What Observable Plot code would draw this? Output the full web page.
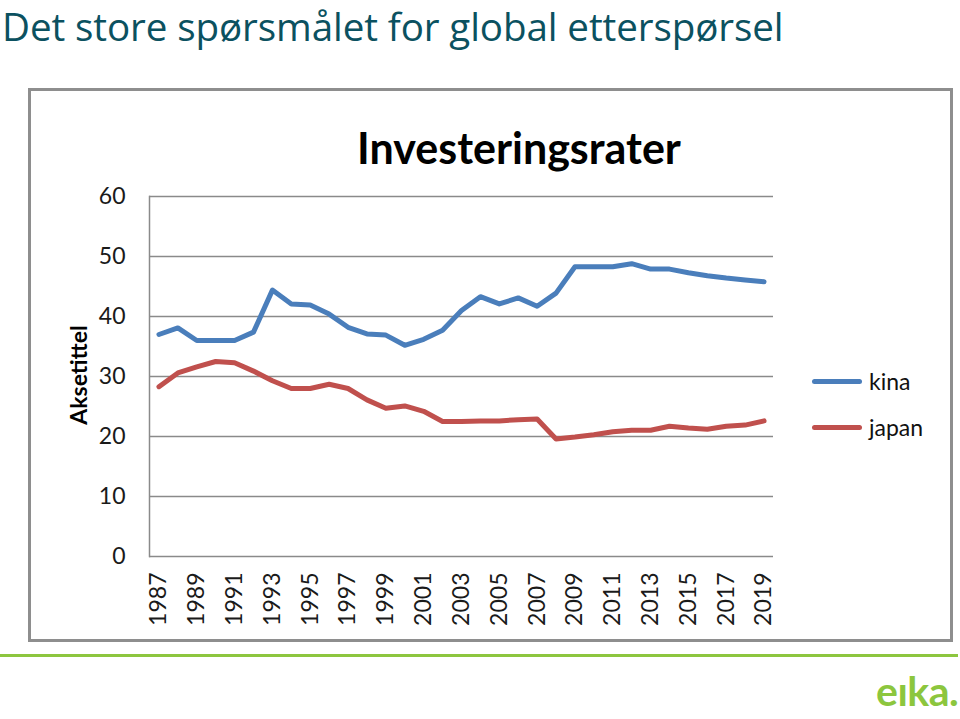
<!DOCTYPE html>
<html>
<head>
<meta charset="utf-8">
<script src="https://cdn.jsdelivr.net/npm/d3@7"></script>
<script src="https://cdn.jsdelivr.net/npm/@observablehq/plot@0.6"></script>
<style>
  html, body { margin: 0; padding: 0; background: #fff; }
  body { width: 960px; height: 719px; position: relative; overflow: hidden; font-family: Lato, sans-serif; }
  #title { position: absolute; left: 2px; top: 0px; font-family: "Open Sans", sans-serif; font-size: 38.6px; line-height: normal; letter-spacing: -0.1px; color: #0b5160; white-space: nowrap; }
  #frame { position: absolute; left: 28px; top: 88px; width: 919px; height: 548px; border: 3px solid #8e8e8e; background: #fff; }
  #chart { position: absolute; left: 0; top: 0; }
  #ctitle { position: absolute; left: 488px; top: 35px; transform: translateX(-50%); font-family: Lato, sans-serif; font-weight: bold; font-size: 43px; line-height: 1; color: #000; white-space: nowrap; }
  #ytitle { position: absolute; left: 47px; top: 284px; transform: translate(-50%, -50%) rotate(-90deg); font-family: Lato, sans-serif; font-weight: bold; font-size: 23px; line-height: 1; white-space: nowrap; color: #000; }
  .leg { position: absolute; left: 781px; height: 30px; display: flex; align-items: center; font-family: Lato, sans-serif; font-size: 23px; color: #111; white-space: nowrap; }
  .sw { width: 50px; height: 5px; border-radius: 3px; margin-right: 7px; }
  #green { position: absolute; left: 0; top: 654px; width: 958px; height: 3px; background: #8dc63f; }
  #logo { position: absolute; left: 876px; top: 670px; font-family: Lato, sans-serif; font-weight: bold; font-size: 41px; line-height: 1; color: #8cc63e; letter-spacing: -0.5px; }
</style>
</head>
<body>
<div id="title">Det store spørsmålet for global etterspørsel</div>
<div id="frame">
  <div id="chart"></div>
  <div id="ctitle">Investeringsrater</div>
  <div id="ytitle">Aksetittel</div>
  <div id="legend"></div>
</div>
<div id="green"></div>
<div id="logo">eıka.</div>
<script>
const years = ["1987","1988","1989","1990","1991","1992","1993","1994","1995","1996","1997","1998","1999","2000","2001","2002","2003","2004","2005","2006","2007","2008","2009","2010","2011","2012","2013","2014","2015","2016","2017","2018","2019"];
const kina  = [37.0,38.1,36.0,36.0,36.0,37.4,44.4,42.1,41.9,40.4,38.2,37.1,36.9,35.2,36.2,37.7,41.0,43.3,42.1,43.1,41.7,43.9,48.3,48.3,48.3,48.8,47.9,47.9,47.3,46.8,46.4,46.1,45.8];
const japan = [28.3,30.6,31.6,32.5,32.3,30.9,29.3,28.0,28.0,28.7,28.0,26.1,24.7,25.1,24.2,22.5,22.5,22.6,22.6,22.8,22.9,19.6,19.9,20.3,20.8,21.05,21.05,21.7,21.4,21.2,21.7,21.9,22.6];
const series = ["kina", "japan"];
const seriesColors = ["#4a7ebb", "#c0504d"];
const yTicks = [0, 10, 20, 30, 40, 50, 60];
const xTicks = years.filter((d, i) => i % 2 === 0);

const data = years.flatMap((y, i) => [
  {year: y, serie: "kina", value: kina[i]},
  {year: y, serie: "japan", value: japan[i]}
]);

const chart = Plot.plot({
  width: 919,
  height: 548,
  marginLeft: 118,
  marginRight: 177,
  marginTop: 105,
  marginBottom: 83,
  style: {fontFamily: "Lato, sans-serif", fontSize: "23px", color: "#1a1a1a", background: "white", overflow: "visible"},
  x: {type: "point", domain: years, padding: 0.5, round: false},
  y: {domain: [0, 60]},
  color: {domain: series, range: seriesColors},
  marks: [
    Plot.ruleY(yTicks, {stroke: "#8a8a8a", strokeWidth: 1.5}),
    Plot.frame({anchor: "left", stroke: "#8a8a8a", strokeWidth: 1.5}),
    Plot.axisY({ticks: yTicks, tickSize: 0, tickPadding: 24, label: null}),
    Plot.axisX({ticks: xTicks, tickRotate: -90, tickSize: 0, tickPadding: 16, label: null}),
    Plot.line(data, {x: "year", y: "value", z: "serie", stroke: "serie", strokeWidth: 5, strokeLinejoin: "round", strokeLinecap: "round"})
  ]
});
document.getElementById("chart").appendChild(chart);

const legend = document.getElementById("legend");
const legTops = [275, 321];
series.forEach((s, i) => {
  const item = document.createElement("div");
  item.className = "leg";
  item.style.top = legTops[i] + "px";
  const sw = document.createElement("div");
  sw.className = "sw";
  sw.style.background = seriesColors[i];
  item.appendChild(sw);
  item.appendChild(document.createTextNode(s));
  legend.appendChild(item);
});
</script>
</body>
</html>
